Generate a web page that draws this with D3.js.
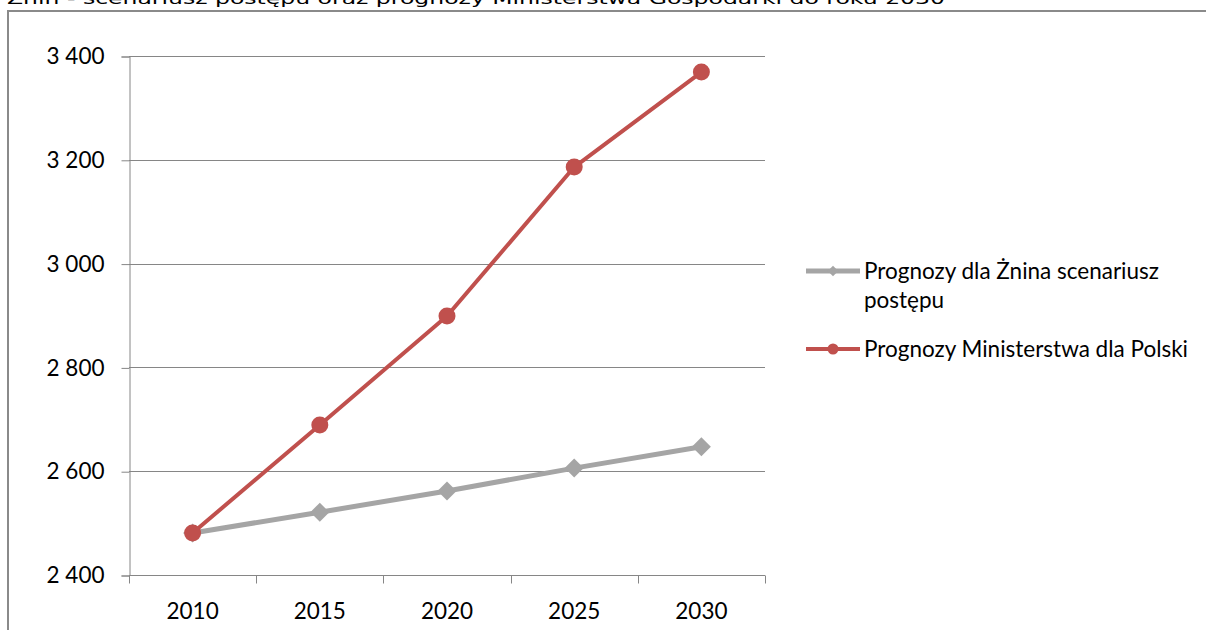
<!DOCTYPE html>
<html>
<head>
<meta charset="utf-8">
<script src="https://cdn.jsdelivr.net/npm/d3@7/dist/d3.min.js"></script>
<style>
  html, body { margin: 0; padding: 0; background: #fff; overflow: hidden; }
  svg { display: block; }
</style>
</head>
<body>
<svg id="chart" width="1206" height="630"></svg>
<script>
const years = ["2010", "2015", "2020", "2025", "2030"];
const zninValues = [2481, 2521, 2562, 2606, 2647];
const ministryValues = [2481, 2689, 2899, 3186, 3369];
const yTicks = [2400, 2600, 2800, 3000, 3200, 3400];
const seriesNames = ["Prognozy dla Żnina scenariusz postępu", "Prognozy Ministerstwa dla Polski"];
const titleText = "Żnin - scenariusz postępu oraz prognozy Ministerstwa Gospodarki do roku 2030";

const svg = d3.select("#chart");
const font = "Lato, 'Open Sans', sans-serif";
const fs = 22.5;

// title (top part sits above the page edge)
svg.append("text")
  .attr("x", 7).attr("y", 4)
  .attr("font-family", "'DejaVu Sans', sans-serif")
  .attr("font-size", 16)
  .attr("textLength", 938).attr("lengthAdjust", "spacingAndGlyphs")
  .attr("fill", "#000")
  .text(titleText);

// chart frame
svg.append("rect")
  .attr("x", 8).attr("y", 11)
  .attr("width", 1210).attr("height", 640)
  .attr("fill", "none").attr("stroke", "#8a8a8a").attr("stroke-width", 2);

const x = d3.scaleBand().domain(years).range([129, 765]).padding(0);
const y = d3.scaleLinear().domain([2400, 3400]).range([575, 56]);

// horizontal gridlines
svg.append("g")
  .selectAll("line")
  .data(yTicks.slice(1))
  .join("line")
  .attr("x1", 129).attr("x2", 765)
  .attr("y1", d => Math.round(y(d)) + 0.5)
  .attr("y2", d => Math.round(y(d)) + 0.5)
  .attr("stroke", "#868686").attr("stroke-width", 1);

// y axis
const yAxis = svg.append("g")
  .attr("transform", "translate(129.5,0.5)")
  .call(d3.axisLeft(y).tickValues(yTicks).tickSize(8).tickPadding(17)
    .tickFormat(d => d3.format(",")(d).replace(",", " ")));
yAxis.select(".domain").attr("stroke", "#868686");
yAxis.selectAll(".tick line").attr("stroke", "#868686");
yAxis.selectAll("text")
  .attr("font-family", font).attr("font-size", fs).attr("fill", "#000");

// x axis: ticks at category boundaries
const xAxisG = svg.append("g").attr("transform", "translate(0,575.5)");
xAxisG.append("line")
  .attr("x1", 129).attr("x2", 765)
  .attr("stroke", "#868686");
xAxisG.selectAll("line.tk")
  .data(years.map(d => x(d)).concat([x.range()[1]]))
  .join("line").attr("class", "tk")
  .attr("x1", d => Math.round(d) + 0.5).attr("x2", d => Math.round(d) + 0.5)
  .attr("y1", 0).attr("y2", 8)
  .attr("stroke", "#868686");
xAxisG.selectAll("text")
  .data(years)
  .join("text")
  .attr("x", d => x(d) + x.bandwidth() / 2)
  .attr("y", 43)
  .attr("text-anchor", "middle")
  .attr("font-family", font).attr("font-size", fs).attr("fill", "#000")
  .text(d => d);

const line = d3.line().x((d, i) => x(years[i]) + x.bandwidth() / 2).y(d => y(d));
const diamond = d3.symbol().type(d3.symbolDiamond2).size(230);

// gray series
svg.append("path").datum(zninValues)
  .attr("d", line).attr("fill", "none")
  .attr("stroke", "#a5a5a5").attr("stroke-width", 5).attr("stroke-linejoin", "round");
svg.append("g").selectAll("path")
  .data(zninValues)
  .join("path")
  .attr("transform", (d, i) => `translate(${x(years[i]) + x.bandwidth() / 2},${y(d)})`)
  .attr("d", diamond)
  .attr("fill", "#a5a5a5");

// red series
svg.append("path").datum(ministryValues)
  .attr("d", line).attr("fill", "none")
  .attr("stroke", "#c0504d").attr("stroke-width", 4).attr("stroke-linejoin", "round");
svg.append("g").selectAll("circle")
  .data(ministryValues)
  .join("circle")
  .attr("cx", (d, i) => x(years[i]) + x.bandwidth() / 2)
  .attr("cy", d => y(d))
  .attr("r", 8.5)
  .attr("fill", "#c0504d");

// legend
const legend = svg.append("g");
legend.append("line").attr("x1", 806).attr("x2", 860).attr("y1", 271).attr("y2", 271)
  .attr("stroke", "#a5a5a5").attr("stroke-width", 5);
legend.append("path").attr("transform", "translate(833,271)")
  .attr("d", d3.symbol().type(d3.symbolDiamond2).size(70)).attr("fill", "#a5a5a5");
const t1 = legend.append("text")
  .attr("x", 864).attr("y", 279)
  .attr("font-family", font).attr("font-size", fs).attr("fill", "#000");
t1.append("tspan").attr("x", 864).attr("dy", 0).text("Prognozy dla Żnina scenariusz");
t1.append("tspan").attr("x", 864).attr("dy", 29).text("postępu");

legend.append("line").attr("x1", 806).attr("x2", 860).attr("y1", 349).attr("y2", 349)
  .attr("stroke", "#c0504d").attr("stroke-width", 4);
legend.append("circle").attr("cx", 833).attr("cy", 349).attr("r", 5.5).attr("fill", "#c0504d");
legend.append("text")
  .attr("x", 864).attr("y", 357)
  .attr("font-family", font).attr("font-size", fs).attr("fill", "#000")
  .text(seriesNames[1]);
</script>
</body>
</html>
